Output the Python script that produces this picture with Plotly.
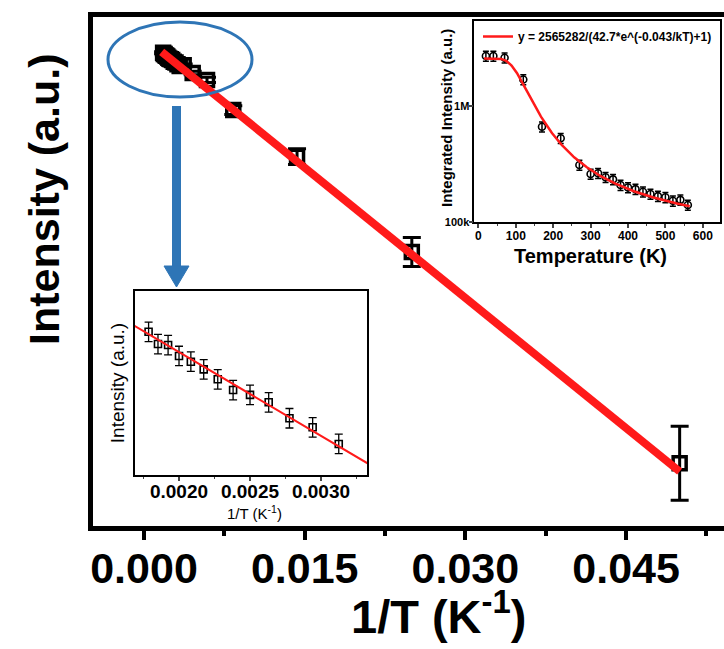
import numpy as np
import plotly.graph_objects as go

# ---------------- data ----------------
# main plot: temperatures (K) and Arrhenius-type intensity values (arbitrary ln units)
T_main = [20, 40, 70, 120, 170, 220, 270, 300, 320, 340, 360, 380, 400, 420, 440, 460, 480, 500, 520, 540, 560]
y_main = [-20.72, -8.58, -3.10, -0.42, 1.31, 1.71, 2.15, 2.12, 2.209, 2.308, 2.362, 2.457, 2.501, 2.530,
          2.594, 2.653, 2.699, 2.733, 2.798, 2.804, 2.877]
err_main = [2.13, 0.83, 0.45, 0.25, 0.15, 0.10, 0.08, 0.07, 0.058, 0.058, 0.058, 0.058, 0.058, 0.058,
            0.058, 0.058, 0.058, 0.058, 0.058, 0.058, 0.058]

# upper-right inset: integrated intensity vs temperature
T_ins = [20, 40, 70, 120, 170, 220, 270, 300, 320, 340, 360, 380, 400, 420, 440, 460, 480, 500, 520, 540, 560]
I_ins = [2.69e6, 2.69e6, 2.60e6, 1.69e6, 6.64e5, 5.28e5, 3.11e5, 2.60e5, 2.64e5, 2.44e5, 2.34e5, 2.09e5,
         1.99e5, 1.93e5, 1.83e5, 1.75e5, 1.68e5, 1.64e5, 1.53e5, 1.56e5, 1.41e5]
I_err_pct = 10

# fit parameters (from legend): y = A/(B*exp(-E/kT)+1)
A_fit, B_fit, E_fit, k_B = 2565282, 42.7, 0.043, 8.617e-5
fit_T_range = (15, 565)
fit_x_range = (0.00165, 0.05)

# lower-left inset: only the high temperature points
inset_T_min = 320

# ---------------- derived ----------------
x_main = [1.0 / t for t in T_main]
xf = np.linspace(fit_x_range[0], fit_x_range[1], 50)
yf = np.log(B_fit) - (E_fit / k_B) * xf
Tf = np.linspace(fit_T_range[0], fit_T_range[1], 300)
If = A_fit / (B_fit * np.exp(-E_fit / (k_B * Tf)) + 1)

sel = [i for i, t in enumerate(T_main) if t >= inset_T_min]
x_in3 = [x_main[i] for i in sel]
y_in3 = [y_main[i] for i in sel]
e_in3 = [err_main[i] for i in sel]

# ---------------- figure ----------------
W, H = 724, 649
ML, MR, MT, MB = 93, 0, 17, 123
PW, PH = W - ML - MR, H - MT - MB


def px(x):
    return (x - ML) / PW


def py(y):
    return (H - MB - y) / PH


FONT = "Arial, Liberation Sans, sans-serif"
RED = "#ff1a1a"
BLUE = "#2e75b6"

fig = go.Figure()

# main data
fig.add_trace(go.Scatter(
    x=x_main, y=y_main, mode="markers", xaxis="x", yaxis="y", showlegend=False,
    marker=dict(symbol="square-open", size=13, color="black", line=dict(width=3.5, color="black")),
    error_y=dict(type="data", array=err_main, color="black", thickness=3, width=9),
))
fig.add_trace(go.Scatter(
    x=xf, y=yf, mode="lines", xaxis="x", yaxis="y", showlegend=False,
    line=dict(color=RED, width=8),
))

# upper-right inset
fig.add_trace(go.Scatter(
    x=T_ins, y=I_ins, mode="markers", xaxis="x2", yaxis="y2", showlegend=False,
    marker=dict(symbol="circle-open", size=7, color="black", line=dict(width=1.6, color="black")),
    error_y=dict(type="percent", value=I_err_pct, color="black", thickness=1.5, width=3),
))
fig.add_trace(go.Scatter(
    x=Tf, y=If, mode="lines", xaxis="x2", yaxis="y2", showlegend=True,
    name="y = 2565282/(42.7*e^(-0.043/kT)+1)",
    line=dict(color=RED, width=2.5),
))

# lower-left inset
fig.add_trace(go.Scatter(
    x=x_in3, y=y_in3, mode="markers", xaxis="x3", yaxis="y3", showlegend=False,
    marker=dict(symbol="square-open", size=7, color="black", line=dict(width=1.6, color="black")),
    error_y=dict(type="data", array=e_in3, color="black", thickness=1.3, width=4),
))
fig.add_trace(go.Scatter(
    x=xf, y=yf, mode="lines", xaxis="x3", yaxis="y3", showlegend=False,
    line=dict(color=RED, width=2),
))

thin = dict(showline=True, linewidth=1.5, linecolor="black", mirror=True, showgrid=False, zeroline=False)

fig.update_layout(
    width=W, height=H,
    margin=dict(l=ML, r=MR, t=MT, b=MB, pad=0),
    paper_bgcolor="white", plot_bgcolor="white",
    font=dict(family=FONT, color="black"),
    xaxis=dict(
        domain=[0, 1], anchor="y", range=[-0.00476, 0.05414],
        showline=True, linewidth=5, linecolor="black", mirror=True,
        showgrid=False, zeroline=False,
        tick0=0, dtick=0.015, tickformat=".3f",
        ticks="outside", ticklen=9, tickwidth=4, tickcolor="black",
        minor=dict(dtick=0.0075, ticks="outside", ticklen=5, tickwidth=4, tickcolor="black", showgrid=False),
        tickfont=dict(size=43, weight="bold", family=FONT),
        ticklabelstandoff=-9,
    ),
    yaxis=dict(
        domain=[0, 1], anchor="x", range=[-24.33, 4.93],
        showline=True, linewidth=5, linecolor="black", mirror=False,
        showgrid=False, zeroline=False, showticklabels=False, ticks="",
    ),
    xaxis2=dict(
        domain=[px(474.3), px(720)], anchor="y2", range=[-11, 646],
        tick0=0, dtick=100, ticks="outside", ticklen=4, tickwidth=1.5,
        minor=dict(dtick=50, ticks="outside", ticklen=2, tickwidth=1.2),
        tickfont=dict(size=12, weight="bold", family=FONT),
        ticklabelstandoff=-2,
        **thin,
    ),
    yaxis2=dict(
        domain=[py(222.3), py(21)], anchor="x2", type="log", range=[5, 6.731],
        tickvals=[1e5, 1e6], ticktext=["100k", "1M"], ticks="outside", ticklen=4, tickwidth=1.5,
        tickfont=dict(size=11, weight="bold", family=FONT),
        ticklabelstandoff=-3,
        **thin,
    ),
    xaxis3=dict(
        domain=[px(135), px(367)], anchor="y3", range=[0.00169, 0.003324],
        tick0=0, dtick=0.0005, tickformat=".4f", ticks="outside", ticklen=4, tickwidth=1.5,
        minor=dict(dtick=0.00025, ticks="outside", ticklen=2, tickwidth=1.2),
        tickfont=dict(size=19, weight="bold", family=FONT),
        ticklabelstandoff=-6,
        **thin,
    ),
    yaxis3=dict(
        domain=[py(475), py(291)], anchor="x3", range=[2.024, 3.120],
        showticklabels=False, ticks="",
        title=dict(text="Intensity (a.u.)", font=dict(size=19, family=FONT), standoff=4),
        **thin,
    ),
    legend=dict(
        x=px(478), y=py(22), xanchor="left", yanchor="top",
        bgcolor="rgba(0,0,0,0)", borderwidth=0,
        font=dict(size=12, weight="bold", family=FONT),
        itemwidth=30, tracegroupgap=0,
    ),
    showlegend=True,
)

# blue ellipse around the high temperature cluster
fig.add_shape(type="circle", xref="paper", yref="paper",
              x0=px(108), x1=px(252), y0=py(97), y1=py(22),
              line=dict(color=BLUE, width=3))
# blue arrow
fig.add_shape(type="line", xref="paper", yref="paper",
              x0=px(176.5), x1=px(176.5), y0=py(106), y1=py(268),
              line=dict(color=BLUE, width=9))
fig.add_shape(type="path", xref="paper", yref="paper",
              path=f"M {px(164)} {py(266)} L {px(189)} {py(266)} L {px(176.5)} {py(287)} Z",
              fillcolor=BLUE, line=dict(color=BLUE, width=1))

# main axis titles
fig.add_annotation(text="Intensity (a.u.)", textangle=-90, xref="paper", yref="paper",
                   x=px(44), y=py(200), xanchor="center", yanchor="middle", showarrow=False,
                   font=dict(size=43, weight="bold", family=FONT))
fig.add_annotation(text="1/T (K<sup>-1</sup>)", xref="paper", yref="paper",
                   x=px(438), y=py(613), xanchor="center", yanchor="middle", showarrow=False,
                   font=dict(size=47, weight="bold", family=FONT))

# upper-right inset titles
fig.add_annotation(text="Temperature (K)", xref="paper", yref="paper",
                   x=px(590), y=py(256), xanchor="center", yanchor="middle", showarrow=False,
                   font=dict(size=20, weight="bold", family=FONT))
fig.add_annotation(text="Integrated Intensity (a.u.)", textangle=-90, xref="paper", yref="paper",
                   x=px(446), y=py(118), xanchor="center", yanchor="middle", showarrow=False,
                   font=dict(size=15, weight="bold", family=FONT))

# lower-left inset x title
fig.add_annotation(text="1/T (K<sup>-1</sup>)", xref="paper", yref="paper",
                   x=px(254), y=py(512), xanchor="center", yanchor="middle", showarrow=False,
                   font=dict(size=15, family=FONT))

fig.write_html("out.html")
